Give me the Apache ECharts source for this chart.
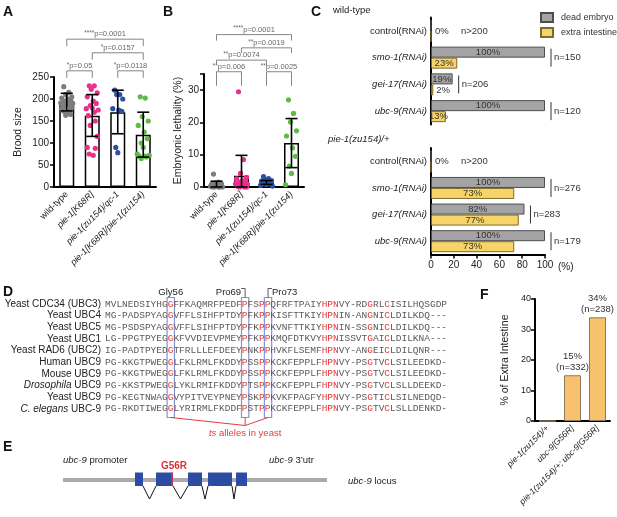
<!DOCTYPE html>
<html>
<head>
<meta charset="utf-8">
<script src="https://cdn.jsdelivr.net/npm/echarts@6.0.0/dist/echarts.min.js"></script>
<style>
html,body{margin:0;padding:0;background:#fff;}
#chart{width:617px;height:517px;}
</style>
</head>
<body>
<div id="chart"></div>
<script>
// ================= DATA =================
// Panels A & B : genotypes
const genotypes = ['wild-type', 'pie-1[K68R]', 'pie-1(zu154)/qc-1', 'pie-1[K68R]/pie-1(zu154)'];
const genotypeItalic = [false, true, true, true];

// Panel A: brood size
const broodMean = [190, 162, 170, 119];
const broodLow = [173, 115, 121, 68];
const broodHigh = [213, 210, 220, 170];
const broodWT = [228, 215, 210, 205, 202, 200, 197, 195, 193, 191, 190, 188, 186, 185, 183, 180, 178, 175, 172, 168, 165, 163];
const broodK68R = [230, 230, 222, 214, 205, 195, 190, 185, 180, 178, 175, 170, 162, 150, 140, 115, 90, 88, 75, 72];
const broodZuQc = [220, 210, 210, 200, 178, 175, 172, 90, 78];
const broodK68RZu = [205, 202, 160, 150, 140, 125, 110, 100, 90, 75, 72, 70, 70, 68, 65];
const broodPairs = [[0, 1], [2, 3], [1, 3], [0, 3]];
const broodStars = ['*', '*', '*', '****'];
const broodP = ['p=0.05', 'p=0.0118', 'p=0.0157', 'p=0.0001'];

// Panel B: embryonic lethality (%)
const lethMean = [0.8, 3.5, 1.4, 13.6];
const lethLow = [0, 0, 0.8, 6.0];
const lethHigh = [1.8, 9.8, 2.0, 21.2];
const lethWT = [4, 1.5, 1.2, 1, 0.8, 0.6, 0.5, 0.4, 0.3, 0.2, 0, 0, 0, 0, 0];
const lethK68R = [29.5, 8.5, 4.2, 3, 2.5, 2, 1.8, 1.5, 1.2, 1, 0.8, 0.5, 0.3, 0, 0, 0];
const lethZuQc = [3.2, 2.6, 2.2, 2, 1.8, 1.5, 1.2, 1, 0.8, 0.5, 0.3];
const lethK68RZu = [27, 22.8, 20.1, 17.4, 15.8, 12.1, 9.5, 6.5, 4.2, 0.7];
const lethPairs = [[0, 1], [2, 3], [0, 2], [1, 3], [0, 3]];
const lethStars = ['**', '**', '**', '**', '****'];
const lethP = ['p=0.006', 'p=0.0025', 'p=0.0074', 'p=0.0019', 'p=0.0001'];

// Panel C: RNAi phenotypes (%)
const rnaiLabels = ['control(RNAi)', 'smo-1(RNAi)', 'gei-17(RNAi)', 'ubc-9(RNAi)'];
const rnaiItalic = [false, true, true, true];
const deadWT = [0, 100, 19, 100];
const extraWT = [0, 23, 2, 13];
const nWT = ['n>200', 'n=150', 'n=206', 'n=120'];
const deadPie = [0, 100, 82, 100];
const extraPie = [0, 73, 77, 73];
const nPie = ['n>200', 'n=276', 'n=283', 'n=179'];

// Panel D: alignment
const seqNames = ['Yeast CDC34 (UBC3)', 'Yeast UBC4', 'Yeast UBC5', 'Yeast UBC1', 'Yeast RAD6 (UBC2)',
  'Human UBC9', 'Mouse UBC9', '{i|Drosophila} UBC9', 'Yeast UBC9', '{i|C. elegans} UBC-9'];
const seqs = [
  'MVLNEDSIYHGGFFKAQMRFPEDFPFSPPQFRFTPAIYHPNVY-RDGRLCISILHQSGDP',
  'MG-PADSPYAGGVFFLSIHFPTDYPFKPPKISFTTKIYHPNIN-ANGNICLDILKDQ---',
  'MG-PSDSPYAGGVFFLSIHFPTDYPFKPPKVNFTTKIYHPNIN-SSGNICLDILKDQ---',
  'LG-PPGTPYEGGKFVVDIEVPMEYPFKPPKMQFDTKVYHPNISSVTGAICLDILKNA---',
  'IG-PADTPYEDGTFRLLLEFDEEYPNKPPHVKFLSEMFHPNVY-ANGEICLDILQNR---',
  'PG-KKGTPWEGGLFKLRMLFKDDYPSSPPKCKFEPPLFHPNVY-PSGTVCLSILEEDKD-',
  'PG-KKGTPWEGGLFKLRMLFKDDYPSSPPKCKFEPPLFHPNVY-PSGTVCLSILEEDKD-',
  'PG-KKSTPWEGGLYKLRMIFKDDYPTSPPKCKFEPPLFHPNVY-PSGTVCLSLLDEEKD-',
  'PG-KEGTNWAGGVYPITVEYPNEYPSKPPKVKFPAGFYHPNVY-PSGTICLSILNEDQD-',
  'PG-RKDTIWEGGLYRIRMLFKDDFPSTPPKCKFEPPLFHPNVY-PSGTVCLSLLDENKD-'
];
const redCols = [12, 25, 28, 29, 39, 40, 41, 47, 50];
const boxCols = [12, 25, 29];
const boxNames = ['Gly56', 'Pro69', 'Pro73'];

// Panel E: gene model (relative locus units)
const locusLen = 264;
const exons = [[72, 80], [93, 110], [125, 139], [145, 169], [173, 184]];
const mutationPos = 109;

// Panel F: extra intestine (%)
const fLabels = ['pie-1(zu154)/+', 'ubc-9[G56R]', 'pie-1(zu154)/+; ubc-9[G56R]'];
const fPct = [0, 15, 34];
const fN = ['', 'n=332', 'n=238'];

// ================= STYLE / LAYOUT =================
const SANS = 'Liberation Sans, Arial, Helvetica, sans-serif';
const MONO = 'Liberation Mono, Courier New, monospace';
const pointColors = ['#7d7d7d', '#e8318a', '#2f4fa2', '#5fba47'];
const JITTER = [-3, 2, -1, 5, -5, 1, 4, -2, 0, -6, 6, 2, -4, 3, -2, 5, -5, 3, -3, 1, 4, -1];
const grayBar = '#a4a4a6', yellowBar = '#f6d46a', orangeBar = '#f8c26c';

const chart = echarts.init(document.getElementById('chart'), null, {renderer: 'canvas'});

function catAxis(gi, data, italicFlags, fs) {
  return {
    type: 'category', gridIndex: gi, data: data,
    axisLine: {lineStyle: {color: '#000', width: 2}},
    axisTick: {alignWithLabel: true, length: 4, lineStyle: {color: '#000', width: 1.5}},
    axisLabel: {
      interval: 0, rotate: 45, margin: 6, fontSize: fs, color: '#222',
      formatter: (v, i) => italicFlags[i] ? '{i|' + v + '}' : '{n|' + v + '}',
      rich: {i: {fontStyle: 'italic', fontSize: fs, color: '#222', fontFamily: SANS},
             n: {fontSize: fs, color: '#222', fontFamily: SANS}}
    }
  };
}
function valAxis(gi, max, interval, name, gap, extra) {
  return Object.assign({
    type: 'value', gridIndex: gi, min: 0, max: max, interval: interval,
    axisLine: {show: true, lineStyle: {color: '#000', width: 2}},
    axisTick: {show: true, length: 4, lineStyle: {color: '#000', width: 1.5}},
    axisLabel: {fontSize: 10, color: '#222', margin: 5},
    splitLine: {show: false},
    name: name, nameLocation: 'middle', nameGap: gap, nameRotate: 90,
    nameTextStyle: {fontSize: 10.5, color: '#222', fontFamily: SANS}
  }, extra || {});
}

function pointSeries(ai, groups) {
  const data = [];
  groups.forEach((g, ci) => g.forEach((v, k) => data.push([ci, v, k])));
  return {
    type: 'custom', xAxisIndex: ai, yAxisIndex: ai, z: 3, data: data,
    renderItem: (params, api) => {
      const c = api.value(0);
      const p = api.coord([c, api.value(1)]);
      const dx = JITTER[api.value(2) % JITTER.length];
      return {type: 'circle', shape: {cx: p[0] + dx, cy: p[1], r: 2.6}, style: {fill: pointColors[c]}};
    }
  };
}
function errSeries(ai, low, high) {
  return {
    type: 'custom', xAxisIndex: ai, yAxisIndex: ai, z: 4,
    data: low.map((l, i) => [i, l, high[i]]),
    renderItem: (params, api) => {
      const c = api.value(0);
      const lo = api.coord([c, api.value(1)]), hi = api.coord([c, api.value(2)]);
      const w = 6, st = {stroke: '#000', lineWidth: 1.6};
      return {type: 'group', children: [
        {type: 'line', shape: {x1: lo[0], y1: lo[1], x2: hi[0], y2: hi[1]}, style: st},
        {type: 'line', shape: {x1: hi[0] - w, y1: hi[1], x2: hi[0] + w, y2: hi[1]}, style: st},
        {type: 'line', shape: {x1: lo[0] - w, y1: lo[1], x2: lo[0] + w, y2: lo[1]}, style: st}
      ]};
    }
  };
}
function bracketSeries(ai, pairs, levels, legs, stars, pv) {
  return {
    type: 'custom', xAxisIndex: ai, yAxisIndex: ai, z: 5, clip: false,
    data: pairs.map((p, i) => [p[0], p[1], levels[i]]),
    renderItem: (params, api) => {
      const i = params.dataIndex;
      const a = api.coord([api.value(0), api.value(2)]);
      const b = api.coord([api.value(1), api.value(2)]);
      const leg = legs[i];
      return {type: 'group', children: [
        {type: 'polyline', shape: {points: [[a[0], a[1] + leg], [a[0], a[1]], [b[0], b[1]], [b[0], b[1] + leg]]},
         style: {stroke: '#858585', lineWidth: 1, fill: null}},
        {type: 'text', x: (a[0] + b[0]) / 2, y: a[1] - 0.5,
         style: {text: '{s|' + stars[i] + '}{p|' + pv[i] + '}', align: 'center', verticalAlign: 'bottom',
                 rich: {s: {fontSize: 6.5, fill: '#666', fontFamily: SANS, verticalAlign: 'top', lineHeight: 9},
                        p: {fontSize: 7.5, fill: '#666', fontFamily: SANS, lineHeight: 9}}}}
      ]};
    }
  };
}
function rnaiBars(ai, dead, extra) {
  const lab = {show: true, fontSize: 9.5, color: '#333', fontFamily: SANS, distance: 3,
               formatter: p => p.value > 0 ? p.value + '%' : ''};
  return [
    {name: 'dead embryo', type: 'bar', xAxisIndex: ai, yAxisIndex: ai, barWidth: 11, barGap: '0%',
     itemStyle: {color: grayBar, borderColor: '#4d4d4d', borderWidth: 1},
     label: lab, data: dead.map(v => ({value: v, label: {position: v < 8 ? 'right' : 'inside'}}))},
    {name: 'extra intestine', type: 'bar', xAxisIndex: ai, yAxisIndex: ai, barWidth: 11, barGap: '0%',
     itemStyle: {color: yellowBar, borderColor: '#7d6a2c', borderWidth: 1},
     label: lab, data: extra.map(v => ({value: v, label: {position: v < 8 ? 'right' : 'inside'}}))}
  ];
}
function nSeries(ai, dead, extra, nLab) {
  return {
    type: 'custom', xAxisIndex: ai, yAxisIndex: ai, z: 5, clip: false,
    data: dead.map((d, i) => [Math.max(d, extra[i]), i]),
    renderItem: (params, api) => {
      const i = params.dataIndex;
      const v = api.value(0);
      const p = api.coord([v, api.value(1)]);
      const ts = (t, x) => ({type: 'text', x: x, y: p[1],
        style: {text: t, fontSize: 9.5, fontFamily: SANS, fill: '#333', align: 'left', verticalAlign: 'middle'}});
      if (v === 0) return {type: 'group', children: [ts('0%', p[0] + 4), ts(nLab[i], p[0] + 30)]};
      const x = p[0] + 6;
      return {type: 'group', children: [
        {type: 'line', shape: {x1: x, y1: p[1] - 9, x2: x, y2: p[1] + 9}, style: {stroke: '#333', lineWidth: 1}},
        ts(nLab[i], x + 3)
      ]};
    }
  };
}

// ---------- graphic (panel letters, alignment, gene model) ----------
const G = [];
function txt(x, y, text, opts) {
  G.push({type: 'text', x: x, y: y, z: 10, style: Object.assign({text: text, fontSize: 9.5, fontFamily: SANS,
    fill: '#222', align: 'left', verticalAlign: 'middle'}, opts || {})});
}
[['A', 3, 12], ['B', 163, 12], ['C', 311, 12], ['D', 3, 292], ['E', 3, 447], ['F', 480, 295]].forEach(l =>
  txt(l[1], l[2], l[0], {fontSize: 14, fontWeight: 'bold', fill: '#111'}));
txt(333, 10, 'wild-type');
txt(328, 139, 'pie-1(zu154)/+', {fontStyle: 'italic'});

// Panel D
const seqX0 = 105, seqCW = 5.72, seqY0 = 304, seqDY = 11.65;
const colC = c => seqX0 + (c - 0.5) * seqCW;
const richSans = {i: {fontStyle: 'italic', fontSize: 9.5, fontFamily: SANS, fill: '#222'}};
const richName = {i: {fontStyle: 'italic', fontSize: 10, fontFamily: SANS, fill: '#222'}};
seqNames.forEach((n, r) => {
  const y = seqY0 + r * seqDY;
  txt(101, y, n, {align: 'right', fontSize: 10, rich: richName});
  let s = '', cur = null, buf = '';
  for (let k = 0; k < seqs[r].length; k++) {
    const t = redCols.includes(k + 1) ? 'r' : 'n';
    if (t !== cur && buf) { s += '{' + cur + '|' + buf + '}'; buf = ''; }
    cur = t; buf += seqs[r][k];
  }
  s += '{' + cur + '|' + buf + '}';
  txt(seqX0, y, s, {rich: {n: {fontSize: 9.5, fontFamily: MONO, fill: '#5a5a5a'},
                            r: {fontSize: 9.5, fontFamily: MONO, fill: '#e23b3b'}}});
});
boxCols.forEach(c => {
  G.push({type: 'rect', z: 9, shape: {x: colC(c) - seqCW / 2 - 0.8, y: 297.5, width: seqCW + 1.6, height: 120},
          style: {fill: 'none', stroke: '#8593d2', lineWidth: 1.2}});
});
txt(colC(boxCols[0]), 292, boxNames[0], {align: 'center'});
txt(colC(boxCols[1]) - 4, 292, boxNames[1], {align: 'right'});
txt(colC(boxCols[2]) + 4, 292, boxNames[2], {align: 'left'});
G.push({type: 'polyline', z: 9, shape: {points: [[colC(boxCols[1]) - 4, 288.5], [colC(boxCols[1]), 288.5], [colC(boxCols[1]), 297.5]]},
        style: {stroke: '#333', lineWidth: 0.8, fill: null}});
G.push({type: 'polyline', z: 9, shape: {points: [[colC(boxCols[2]) + 4, 288.5], [colC(boxCols[2]), 288.5], [colC(boxCols[2]), 297.5]]},
        style: {stroke: '#333', lineWidth: 0.8, fill: null}});
const meet = [colC(boxCols[1]), 425.5];
boxCols.forEach(c => G.push({type: 'line', z: 9, shape: {x1: colC(c), y1: 417.5, x2: meet[0], y2: meet[1]},
                              style: {stroke: '#e23b3b', lineWidth: 1}}));
txt(meet[0], 433, '{i|ts} alleles in yeast', {align: 'center', fill: '#e23b3b',
    rich: {i: {fontStyle: 'italic', fontSize: 9.5, fontFamily: SANS, fill: '#e23b3b'}}});

// Panel E
const locX0 = 63, locY = 480;
const lx = u => locX0 + u;
G.push({type: 'rect', z: 8, shape: {x: lx(0), y: locY - 2, width: locusLen, height: 4}, style: {fill: '#a9a9a9'}});
exons.forEach((e, k) => {
  G.push({type: 'rect', z: 9, shape: {x: lx(e[0]), y: locY - 7.5, width: e[1] - e[0], height: 13.5},
          style: {fill: '#2c4ca3'}});
  if (k < exons.length - 1) {
    const a = lx(e[1]), b = lx(exons[k + 1][0]);
    G.push({type: 'polyline', z: 9, shape: {points: [[a, locY + 6], [(a + b) / 2, locY + 19], [b, locY + 6]]},
            style: {stroke: '#111', lineWidth: 1, fill: null}});
  }
});
G.push({type: 'line', z: 10, shape: {x1: lx(mutationPos), y1: locY - 7.5, x2: lx(mutationPos), y2: locY + 6},
        style: {stroke: '#e0303a', lineWidth: 1.5}});
txt(63, 460, '{i|ubc-9} promoter', {rich: richSans});
txt(lx(mutationPos) + 2, 466, 'G56R', {align: 'center', fontWeight: 'bold', fill: '#e0303a', fontSize: 10});
txt(269, 460, '{i|ubc-9} 3\u2019utr', {rich: richSans});
txt(348, 481, '{i|ubc-9} locus', {rich: richSans});

// ================= OPTION =================
const option = {
  animation: false,
  backgroundColor: '#fff',
  textStyle: {fontFamily: SANS},
  legend: {
    data: ['dead embryo', 'extra intestine'], orient: 'vertical', left: 535, top: 7,
    itemWidth: 12, itemHeight: 9, itemGap: 4, icon: 'rect', selectedMode: false,
    textStyle: {fontSize: 9, color: '#333', fontFamily: SANS, padding: [0, 0, 0, 3]}
  },
  grid: [
    {left: 54, top: 77, width: 102, height: 110},
    {left: 204, top: 74, width: 100, height: 113},
    {left: 431, top: 17.5, width: 114, height: 107},
    {left: 431, top: 148, width: 114, height: 106.5},
    {left: 535, top: 299, width: 75, height: 122}
  ],
  xAxis: [
    catAxis(0, genotypes, genotypeItalic, 9),
    catAxis(1, genotypes, genotypeItalic, 9),
    {type: 'value', gridIndex: 2, min: 0, max: 100, show: false},
    {type: 'value', gridIndex: 3, min: 0, max: 100, interval: 20,
     axisLine: {show: true, lineStyle: {color: '#000', width: 2}},
     axisTick: {show: true, length: 4, lineStyle: {color: '#000', width: 1.5}},
     axisLabel: {fontSize: 10, color: '#222', margin: 6}, splitLine: {show: false},
     name: '(%)', nameLocation: 'end', nameGap: 13,
     nameTextStyle: {fontSize: 10, color: '#222', verticalAlign: 'top', padding: [8, 0, 0, 0]}},
    catAxis(4, fLabels, [true, true, true], 8.5)
  ],
  yAxis: [
    valAxis(0, 250, 50, 'Brood size', 30),
    valAxis(1, 35, 10, 'Embryonic lethality (%)', 18,
            {axisLabel: {fontSize: 10, color: '#222', margin: 5, formatter: v => v % 10 === 0 ? String(v) : ''}}),
    {type: 'category', gridIndex: 2, data: rnaiLabels, inverse: true,
     axisLine: {lineStyle: {color: '#000', width: 2}},
     axisTick: {alignWithLabel: true, length: 3, lineStyle: {color: '#000', width: 1.5}},
     axisLabel: {margin: 4, fontSize: 9.5, color: '#222',
       formatter: (v, i) => rnaiItalic[i] ? '{i|' + v + '}' : '{n|' + v + '}',
       rich: {i: {fontStyle: 'italic', fontSize: 9.5, color: '#222'}, n: {fontSize: 9.5, color: '#222'}}}},
    {type: 'category', gridIndex: 3, data: rnaiLabels, inverse: true,
     axisLine: {lineStyle: {color: '#000', width: 2}},
     axisTick: {alignWithLabel: true, length: 3, lineStyle: {color: '#000', width: 1.5}},
     axisLabel: {margin: 4, fontSize: 9.5, color: '#222',
       formatter: (v, i) => rnaiItalic[i] ? '{i|' + v + '}' : '{n|' + v + '}',
       rich: {i: {fontStyle: 'italic', fontSize: 9.5, color: '#222'}, n: {fontSize: 9.5, color: '#222'}}}},
    valAxis(4, 40, 10, '% of Extra Intestine', 24, {axisLabel: {fontSize: 9, color: '#222', margin: 4}})
  ],
  series: [
    // A
    {type: 'bar', xAxisIndex: 0, yAxisIndex: 0, barWidth: 15, z: 2, data: broodMean,
     itemStyle: {color: '#fff', borderColor: '#000', borderWidth: 1.5}},
    pointSeries(0, [broodWT, broodK68R, broodZuQc, broodK68RZu]),
    errSeries(0, broodLow, broodHigh),
    bracketSeries(0, broodPairs, [264, 264, 305, 336], [7, 7, 7, 7], broodStars, broodP),
    // B
    {type: 'bar', xAxisIndex: 1, yAxisIndex: 1, barWidth: 15, z: 2, data: lethMean,
     itemStyle: {color: '#fff', borderColor: '#000', borderWidth: 1.5}},
    pointSeries(1, [lethWT, lethK68R, lethZuQc, lethK68RZu]),
    errSeries(1, lethLow, lethHigh),
    bracketSeries(1, lethPairs, [35.7, 35.7, 39.3, 43.1, 47.2], [14, 14, 5, 5, 6], lethStars, lethP),
    // C
    ...rnaiBars(2, deadWT, extraWT),
    nSeries(2, deadWT, extraWT, nWT),
    ...rnaiBars(3, deadPie, extraPie),
    nSeries(3, deadPie, extraPie, nPie),
    // F
    {type: 'bar', xAxisIndex: 4, yAxisIndex: 4, barWidth: 17, data: fPct,
     itemStyle: {color: orangeBar, borderColor: '#8c7a5c', borderWidth: 1},
     label: {show: true, position: 'top', distance: 2, fontSize: 9.5, color: '#333', lineHeight: 11,
             formatter: p => p.value > 0 ? p.value + '%\n(' + fN[p.dataIndex] + ')' : ''}}
  ],
  graphic: {elements: G}
};
chart.setOption(option);
</script>
</body>
</html>
